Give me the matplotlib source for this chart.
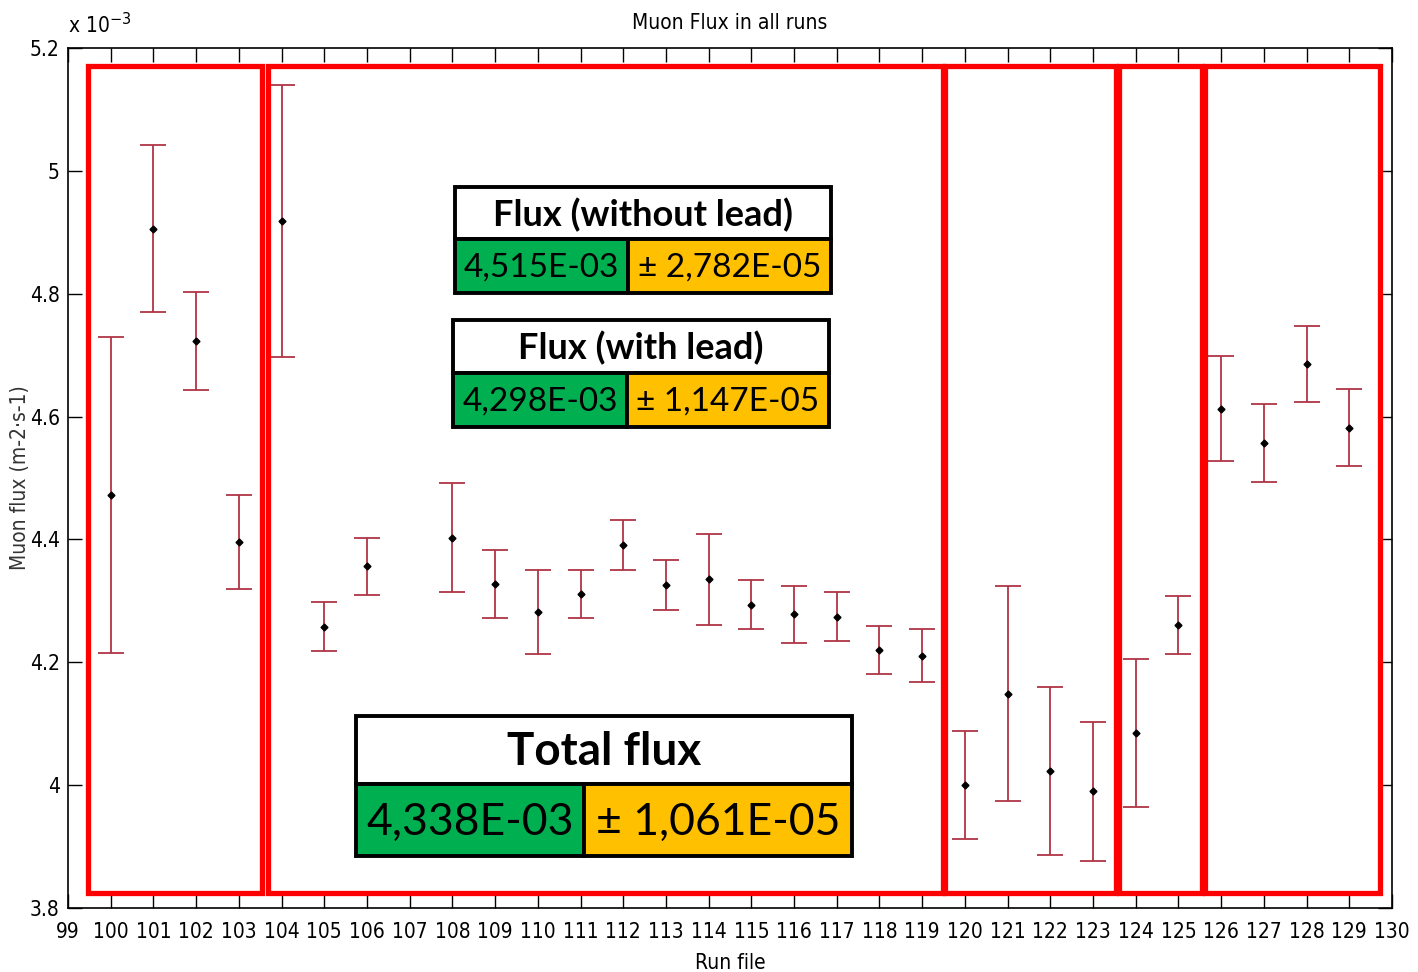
import matplotlib
matplotlib.use("Agg")
import matplotlib.pyplot as plt
from matplotlib.patches import Rectangle

# ---- data (flux in units of 1e-3 m-2 s-1) ----
runs = [100, 101, 102, 103, 104, 105, 106, 108, 109, 110, 111, 112, 113, 114,
        115, 116, 117, 118, 119, 120, 121, 122, 123, 124, 125, 126, 127, 128, 129]
flux = [4.472, 4.906, 4.723, 4.396, 4.918, 4.258, 4.356, 4.403, 4.327, 4.282,
        4.311, 4.391, 4.326, 4.335, 4.294, 4.278, 4.274, 4.220, 4.211, 4.000,
        4.149, 4.023, 3.990, 4.085, 4.261, 4.613, 4.557, 4.685, 4.582]
err = [0.257, 0.136, 0.080, 0.077, 0.221, 0.040, 0.046, 0.089, 0.055, 0.068,
       0.039, 0.040, 0.041, 0.074, 0.040, 0.046, 0.040, 0.039, 0.043, 0.088,
       0.175, 0.136, 0.113, 0.120, 0.047, 0.085, 0.064, 0.062, 0.063]
xticks = list(range(99, 131))
yticks = [3.8, 4.0, 4.2, 4.4, 4.6, 4.8, 5.0, 5.2]
ytick_labels = ["3.8", "4", "4.2", "4.4", "4.6", "4.8", "5", "5.2"]

# group boxes (run ranges)
groups = [(99.47, 103.54), (103.68, 119.49), (119.54, 123.54),
          (123.61, 125.56), (125.63, 129.72)]

tables = [
    ("Flux (without lead)", "4,515E-03", "± 2,782E-05"),
    ("Flux (with lead)", "4,298E-03", "± 1,147E-05"),
    ("Total flux", "4,338E-03", "± 1,061E-05"),
]

W, H = 1418, 972
fig = plt.figure(figsize=(W / 100, H / 100), dpi=100)
ax = fig.add_axes([68 / W, 1 - 908 / H, (1392 - 68) / W, (908 - 48) / H])

tf = dict(family='DejaVu Sans', stretch='condensed', fontsize=15)
ax.errorbar(runs, flux, yerr=err, fmt='D', color='black', markersize=3.5,
            ecolor='#b03545', elinewidth=1.3, capsize=9.5, capthick=1.3)

ax.set_xlim(99, 130)
ax.set_ylim(3.8, 5.2)
ax.set_xticks(xticks)
ax.set_xticklabels([str(t) for t in xticks], **tf)
ax.set_yticks(yticks)
ax.set_yticklabels(ytick_labels, **tf)
ax.tick_params(axis='x', direction='in', length=10, width=1, top=True, pad=10)
ax.tick_params(axis='y', direction='in', length=10, width=1, right=True, pad=6)
for s in ax.spines.values():
    s.set_linewidth(1.2)
ax.set_title("Muon Flux in all runs", pad=14, **tf)
ax.set_xlabel("Run file", labelpad=8, **tf)
ax.set_ylabel("Muon flux (m-2·s-1)", color='#333333', **tf)
ax.yaxis.set_label_coords(-0.029, 0.5)
ax.text(0.0, 1.012, r"x 10$^{-3}$", transform=ax.transAxes, ha='left', va='bottom', **tf)

# red group boxes
for x0, x1 in groups:
    ax.add_patch(Rectangle((x0, 3.825), x1 - x0, 5.171 - 3.825, fill=False,
                           edgecolor='#ff0000', linewidth=3.8, clip_on=False, zorder=5))


def px(x, y):
    return x / W, 1 - y / H


def draw_table(x0, x1, xs, y0, ym, y1, head, val, pm, hfs, vfs):
    lw = 2.8
    fig.add_artist(Rectangle(px(x0, ym), (x1 - x0) / W, (ym - y0) / H,
                             facecolor='white', edgecolor='black', linewidth=lw, zorder=10))
    fig.add_artist(Rectangle(px(x0, y1), (xs - x0) / W, (y1 - ym) / H,
                             facecolor='#00b050', edgecolor='black', linewidth=lw, zorder=10))
    fig.add_artist(Rectangle(px(xs, y1), (x1 - xs) / W, (y1 - ym) / H,
                             facecolor='#ffc000', edgecolor='black', linewidth=lw, zorder=10))
    fig.text(*px((x0 + x1) / 2, (y0 + ym) / 2 + 2), head, fontsize=hfs, fontweight='bold',
             family='Lato', ha='center', va='center', zorder=11)
    fig.text(*px((x0 + xs) / 2, (ym + y1) / 2 + 2), val, fontsize=vfs,
             family='Lato', ha='center', va='center', zorder=11)
    fig.text(*px((xs + x1) / 2, (ym + y1) / 2 + 2), pm, fontsize=vfs,
             family='Lato', ha='center', va='center', zorder=11)


draw_table(455, 831, 628, 187, 239, 293, *tables[0], 26, 24)
draw_table(453, 829, 627, 320, 373, 427, *tables[1], 26, 24)
draw_table(356, 852, 584, 716, 784, 856, *tables[2], 33, 32)

fig.savefig("out.png", dpi=100)
